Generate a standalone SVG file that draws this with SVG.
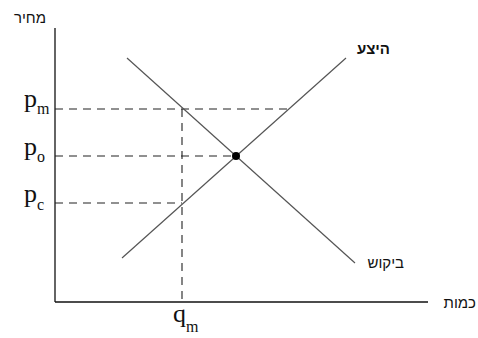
<svg xmlns="http://www.w3.org/2000/svg" width="478" height="338" viewBox="0 0 478 338">
<style>
.axis{stroke:#111;stroke-width:1.3;fill:none}
.curve{stroke:#555;stroke-width:1.2;fill:none}
.dash{stroke:#222;stroke-width:1.1;stroke-dasharray:8 6;fill:none}
.heb{font-family:"Liberation Sans","DejaVu Sans",sans-serif;font-size:15px;fill:#111;text-anchor:end}
.p{font-family:"Liberation Serif","Times New Roman",serif;font-size:26px;fill:#111}
.sub{font-size:16px}
</style>
<rect width="478" height="338" fill="#fff"/>
<g id="connectors">
<line class="axis" x1="55" y1="28" x2="55" y2="302"/>
<line class="axis" x1="55" y1="302" x2="428" y2="302" stroke="#777"/>
<line class="dash" x1="55" y1="109" x2="289" y2="109"/>
<line class="dash" x1="55" y1="156" x2="236" y2="156"/>
<line class="dash" x1="55" y1="203" x2="182" y2="203" stroke-dasharray="6 4" stroke="#555"/>
<line class="dash" x1="182" y1="109" x2="182" y2="302" stroke-dasharray="7 6"/>
<line class="curve" x1="127" y1="58" x2="355" y2="263"/>
<line class="curve" x1="122" y1="258" x2="346" y2="58"/>
</g>
<g id="equilibrium"><circle cx="236" cy="156" r="4" fill="#000"/></g>
<g id="label-price"><text class="heb" x="46" y="23">מחיר</text></g>
<g id="label-supply"><text class="heb" x="390" y="54" font-weight="bold">היצע</text></g>
<g id="label-demand"><text class="heb" x="404" y="268">ביקוש</text></g>
<g id="label-quantity"><text class="heb" x="476" y="308">כמות</text></g>
<g id="label-pm"><text class="p" x="24" y="107">p<tspan class="sub" dy="7">m</tspan></text></g>
<g id="label-po"><text class="p" x="24" y="155">p<tspan class="sub" dy="7">o</tspan></text></g>
<g id="label-pc"><text class="p" x="24" y="202">p<tspan class="sub" dy="8">c</tspan></text></g>
<g id="label-qm"><text class="p" x="173" y="322">q<tspan class="sub" dy="10">m</tspan></text></g>
</svg>
